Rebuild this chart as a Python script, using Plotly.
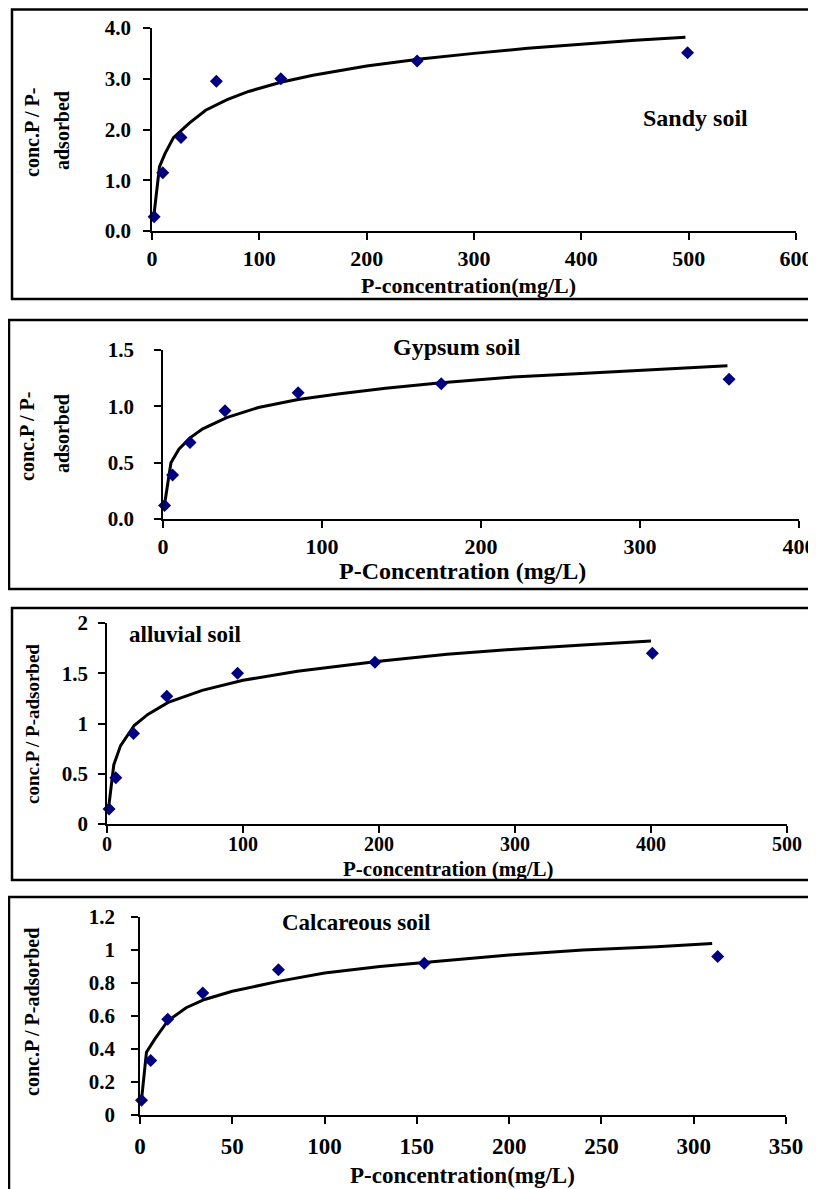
import plotly.graph_objects as go

# page is 816x1189; the html body has an 8px margin, so the figure starts at (8, 8)
OFF = 8
W, H = 816 - OFF, 1189 - OFF
FONT = "Liberation Serif, Times New Roman, serif"

# ---------------- data ----------------
# Sandy soil
sandy_x = [2, 10, 27, 60, 120, 247, 499]
sandy_y = [0.28, 1.15, 1.84, 2.95, 3.00, 3.35, 3.51]
sandy_fit_x = [2, 7, 12, 20, 35, 50, 70, 90, 120, 150, 200, 250, 300, 350, 400, 450, 497]
sandy_fit_y = [0.35, 1.27, 1.52, 1.84, 2.13, 2.38, 2.59, 2.75, 2.93, 3.07, 3.25, 3.39, 3.50, 3.60, 3.68, 3.76, 3.82]

# Gypsum soil
gyp_x = [1, 6, 17, 39, 85, 175, 356]
gyp_y = [0.12, 0.39, 0.68, 0.96, 1.12, 1.20, 1.24]
gyp_fit_x = [1, 5, 10, 17, 25, 40, 60, 85, 110, 140, 175, 220, 260, 300, 355]
gyp_fit_y = [0.13, 0.50, 0.62, 0.72, 0.80, 0.90, 0.99, 1.06, 1.11, 1.16, 1.21, 1.26, 1.29, 1.32, 1.36]

# alluvial soil
allu_x = [1.5, 6.5, 19.5, 44, 96, 197, 401]
allu_y = [0.15, 0.46, 0.90, 1.27, 1.50, 1.61, 1.70]
allu_fit_x = [1, 5, 10, 20, 30, 45, 70, 100, 140, 200, 250, 300, 350, 400]
allu_fit_y = [0.14, 0.59, 0.78, 0.98, 1.09, 1.21, 1.33, 1.43, 1.52, 1.62, 1.69, 1.74, 1.78, 1.82]

# Calcareous soil
cal_x = [0.8, 5.8, 15, 34, 75, 154, 313]
cal_y = [0.09, 0.33, 0.58, 0.74, 0.88, 0.92, 0.96]
cal_fit_x = [0.8, 3.5, 8, 15, 25, 35, 50, 75, 100, 130, 160, 200, 240, 280, 310]
cal_fit_y = [0.09, 0.38, 0.46, 0.57, 0.65, 0.70, 0.75, 0.81, 0.86, 0.90, 0.93, 0.97, 1.00, 1.02, 1.04]

# ---------------- layout helpers (page-pixel geometry) ----------------
def px(x):
    return (x - OFF) / W

def py(y):
    return 1 - (y - OFF) / H

panels = [
    dict(px_x=(152, 796), px_y=(28, 231), xr=[0, 600], yr=[0, 4], dx=100, dy=1.0, yfmt=".1f",
         xs=sandy_x, ys=sandy_y, fx=sandy_fit_x, fy=sandy_fit_y,
         yfs=21, xfs=22, ystand=8, xstand=0),
    dict(px_x=(163, 799), px_y=(350, 519), xr=[0, 400], yr=[0, 1.5], dx=100, dy=0.5, yfmt=".1f",
         xs=gyp_x, ys=gyp_y, fx=gyp_fit_x, fy=gyp_fit_y,
         yfs=21, xfs=22, ystand=16, xstand=0),
    dict(px_x=(107, 787), px_y=(623, 824), xr=[0, 500], yr=[0, 2], dx=100, dy=0.5, yfmt="",
         xs=allu_x, ys=allu_y, fx=allu_fit_x, fy=allu_fit_y,
         yfs=21, xfs=20, ystand=6, xstand=-6),
    dict(px_x=(140, 786), px_y=(917, 1115), xr=[0, 350], yr=[0, 1.2], dx=50, dy=0.2, yfmt="",
         xs=cal_x, ys=cal_y, fx=cal_fit_x, fy=cal_fit_y,
         yfs=21, xfs=23, ystand=12, xstand=3),
]

fig = go.Figure()
layout = dict(width=W, height=H, margin=dict(l=0, r=0, t=0, b=0),
              paper_bgcolor="white", plot_bgcolor="white", showlegend=False)

for i, p in enumerate(panels, start=1):
    xa = "x" if i == 1 else f"x{i}"
    ya = "y" if i == 1 else f"y{i}"
    fig.add_trace(go.Scatter(x=p["fx"], y=p["fy"], mode="lines",
                             line=dict(color="black", width=3),
                             xaxis=xa, yaxis=ya, cliponaxis=False, hoverinfo="skip"))
    fig.add_trace(go.Scatter(x=p["xs"], y=p["ys"], mode="markers",
                             marker=dict(symbol="diamond", size=10, color="#000080"),
                             xaxis=xa, yaxis=ya, cliponaxis=False))
    common = dict(showline=True, linecolor="black", linewidth=1.5, ticks="outside", ticklen=7,
                  tickwidth=1.5, tickcolor="black", showgrid=False, zeroline=False,
                  automargin=False, fixedrange=True)
    layout["xaxis" if i == 1 else f"xaxis{i}"] = dict(
        common, domain=[px(p["px_x"][0]), px(p["px_x"][1])], range=p["xr"],
        dtick=p["dx"], tick0=0, anchor=ya, ticklabelstandoff=p["xstand"],
        ticklabeloverflow="allow",
        tickfont=dict(family=FONT, size=p["xfs"], color="black", weight="bold"))
    layout["yaxis" if i == 1 else f"yaxis{i}"] = dict(
        common, domain=[py(p["px_y"][1]), py(p["px_y"][0])], range=p["yr"],
        dtick=p["dy"], tick0=0, anchor=xa, tickformat=p["yfmt"], ticklabelstandoff=p["ystand"],
        tickfont=dict(family=FONT, size=p["yfs"], color="black", weight="bold"))

fig.update_layout(**layout)

def ann(text, x, y, size, angle=0):
    fig.add_annotation(text=text, x=px(x), y=py(y), xref="paper", yref="paper",
                       showarrow=False, xanchor="center", yanchor="middle", textangle=angle,
                       font=dict(family=FONT, size=size, color="black", weight="bold"))

# Panel 1
ann("conc.P / P-", 32, 133, 20, -90)
ann("adsorbed", 62, 131, 20, -90)
ann("P-concentration(mg/L)", 469, 285, 22)
ann("Sandy soil", 695, 118, 24)
# Panel 2
ann("conc.P / P-", 27, 437, 20, -90)
ann("adsorbed", 62, 434, 20, -90)
ann("P-Concentration (mg/L)", 462, 571, 24)
ann("Gypsum soil", 457, 347, 24)
# Panel 3
ann("conc.P / P-adsorbed", 33, 724, 19, -90)
ann("P-concentration (mg/L)", 448, 869, 21)
ann("alluvial soil", 185, 634, 23)
# Panel 4
ann("conc.P / P-adsorbed", 32, 1012, 20, -90)
ann("P-concentration(mg/L)", 462, 1175, 23)
ann("Calcareous soil", 356, 923, 23)

# panel frames
frames = [(12, 9.5, 813, 299), (9, 320, 830, 589), (12, 608, 813, 880), (9, 897, 830, 1200)]
for (x0, y0, x1, y1) in frames:
    fig.add_shape(type="rect", xref="paper", yref="paper",
                  x0=px(x0), x1=px(x1), y0=py(y1), y1=py(y0),
                  line=dict(color="black", width=2.5), fillcolor="rgba(0,0,0,0)", layer="above")

fig.write_html("out.html")
